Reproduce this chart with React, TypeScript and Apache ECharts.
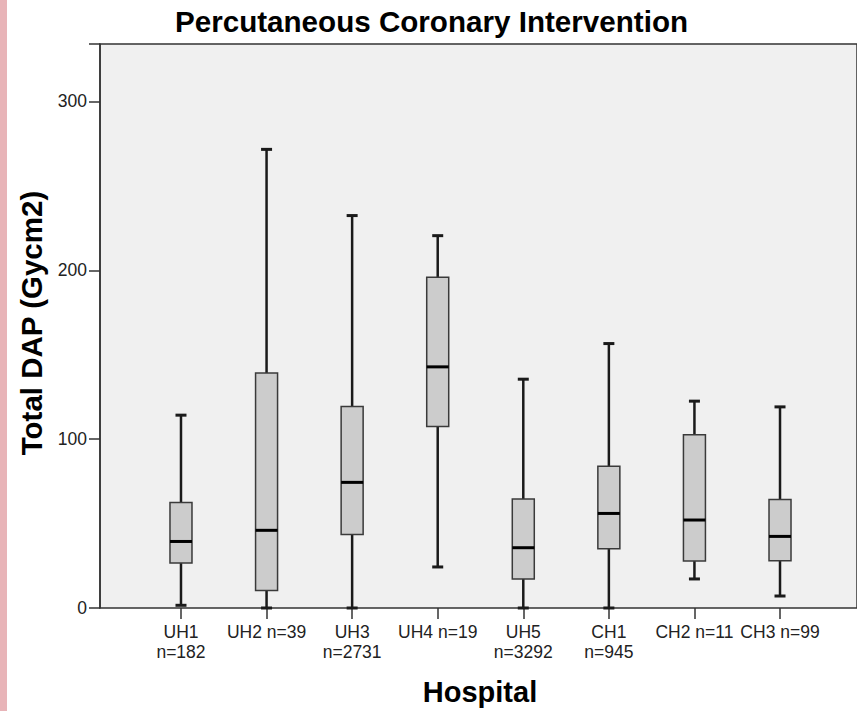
import React, { useEffect, useRef } from "react";
import * as echarts from "echarts";

// Box-and-whisker summary of total DAP per hospital
const hospitals = ["UH1", "UH2", "UH3", "UH4", "UH5", "CH1", "CH2", "CH3"];
const tickLabels = [
  "UH1\nn=182",
  "UH2 n=39",
  "UH3\nn=2731",
  "UH4 n=19",
  "UH5\nn=3292",
  "CH1\nn=945",
  "CH2 n=11",
  "CH3 n=99",
];
const whiskerLow = [1.6, 0, 0, 24.3, 0, 0, 17.2, 7.1];
const quartile1 = [26.6, 10.3, 43.6, 107.5, 17.2, 35.1, 27.8, 28.0];
const medians = [39.4, 46.0, 74.4, 142.8, 35.7, 56.0, 52.1, 42.4];
const quartile3 = [62.5, 139.1, 119.3, 195.9, 64.5, 84.0, 102.6, 64.3];
const whiskerHigh = [114.2, 271.6, 232.4, 220.5, 135.5, 156.6, 122.5, 119.1];
const yTicks = [0, 100, 200, 300];

const FONT = '"Liberation Sans", Arial, sans-serif';

export default function App() {
  const ref = useRef<HTMLDivElement>(null);

  useEffect(() => {
    if (!ref.current) return;
    const chart = echarts.init(ref.current, undefined, { renderer: "svg" });

    const boxData = hospitals.map((_, i) => [
      i,
      whiskerLow[i],
      quartile1[i],
      medians[i],
      quartile3[i],
      whiskerHigh[i],
    ]);

    const yMax = 334;

    chart.setOption({
      animation: false,
      backgroundColor: "#ffffff",
      grid: [
        {
          left: 100,
          top: 44,
          width: 762,
          height: 564,
          show: true,
          backgroundColor: "#f0f0f0",
          borderColor: "#333333",
          borderWidth: 1.5,
        },
        {
          left: 138.2,
          right: 34.2,
          top: 44,
          height: 564,
        },
      ],
      xAxis: [
        { type: "value", gridIndex: 0, show: false, min: 0, max: 1 },
        {
          type: "category",
          gridIndex: 1,
          data: tickLabels,
          boundaryGap: true,
          axisLine: { show: false },
          axisTick: {
            show: true,
            alignWithLabel: true,
            length: 11,
            lineStyle: { color: "#333333", width: 1.5 },
          },
          axisLabel: {
            interval: 0,
            margin: 14,
            color: "#222222",
            fontFamily: FONT,
            fontSize: 17.5,
            lineHeight: 20,
          },
        },
      ],
      yAxis: [
        {
          type: "value",
          gridIndex: 0,
          min: 0,
          max: yMax,
          interval: 100,
          axisLine: { show: true, lineStyle: { color: "#333333", width: 1.5 } },
          axisTick: {
            show: true,
            inside: false,
            length: 11,
            lineStyle: { color: "#333333", width: 1.5 },
          },
          splitLine: { show: false },
          axisLabel: {
            margin: 13,
            color: "#222222",
            fontFamily: FONT,
            fontSize: 17.5,
            formatter: (v: number) => (yTicks.includes(v) ? String(v) : ""),
          },
        },
        { type: "value", gridIndex: 1, show: false, min: 0, max: yMax },
      ],
      series: [
        {
          type: "custom",
          xAxisIndex: 1,
          yAxisIndex: 1,
          data: boxData,
          encode: { x: 0, y: [1, 2, 3, 4, 5] },
          renderItem: (params: any, api: any) => {
            const idx = api.value(0);
            const pLow = api.coord([idx, api.value(1)]);
            const pQ1 = api.coord([idx, api.value(2)]);
            const pMed = api.coord([idx, api.value(3)]);
            const pQ3 = api.coord([idx, api.value(4)]);
            const pHigh = api.coord([idx, api.value(5)]);
            const x = pMed[0];
            const half = 11;
            const cap = 5.5;
            const whisker = { stroke: "#1a1a1a", lineWidth: 2.5 };
            const capStyle = { stroke: "#1a1a1a", lineWidth: 3 };
            return {
              type: "group",
              children: [
                {
                  type: "line",
                  shape: { x1: x, y1: pQ3[1], x2: x, y2: pHigh[1] },
                  style: whisker,
                },
                {
                  type: "line",
                  shape: { x1: x, y1: pQ1[1], x2: x, y2: pLow[1] },
                  style: whisker,
                },
                {
                  type: "line",
                  shape: { x1: x - cap, y1: pHigh[1], x2: x + cap, y2: pHigh[1] },
                  style: capStyle,
                },
                {
                  type: "line",
                  shape: { x1: x - cap, y1: pLow[1], x2: x + cap, y2: pLow[1] },
                  style: capStyle,
                },
                {
                  type: "rect",
                  shape: {
                    x: x - half,
                    y: pQ3[1],
                    width: half * 2,
                    height: pQ1[1] - pQ3[1],
                  },
                  style: { fill: "#cccccc", stroke: "#3a3a3a", lineWidth: 1.5 },
                },
                {
                  type: "line",
                  shape: { x1: x - half, y1: pMed[1], x2: x + half, y2: pMed[1] },
                  style: { stroke: "#000000", lineWidth: 3 },
                },
              ],
            };
          },
        },
      ],
      graphic: [
        {
          type: "rect",
          left: 0,
          top: 0,
          shape: { x: 0, y: 0, width: 7, height: 711 },
          style: { fill: "#e8b4b8" },
          z: 100,
        },
        {
          type: "text",
          x: 431.5,
          y: 21.5,
          style: {
            text: "Percutaneous Coronary Intervention",
            fontFamily: FONT,
            fontSize: 29.6,
            fontWeight: "bold",
            fill: "#000000",
            align: "center",
            verticalAlign: "middle",
            textAlign: "center",
            textVerticalAlign: "middle",
          },
        },
        {
          type: "text",
          x: 31,
          y: 323,
          rotation: Math.PI / 2,
          style: {
            text: "Total DAP (Gycm2)",
            fontFamily: FONT,
            fontSize: 29.5,
            fontWeight: "bold",
            fill: "#000000",
            align: "center",
            verticalAlign: "middle",
            textAlign: "center",
            textVerticalAlign: "middle",
          },
        },
        {
          type: "text",
          x: 480,
          y: 692,
          style: {
            text: "Hospital",
            fontFamily: FONT,
            fontSize: 29,
            fontWeight: "bold",
            fill: "#000000",
            align: "center",
            verticalAlign: "middle",
            textAlign: "center",
            textVerticalAlign: "middle",
          },
        },
      ],
    });

    return () => chart.dispose();
  }, []);

  return (
    <div
      ref={ref}
      style={{
        position: "fixed",
        left: 0,
        top: 0,
        width: 857,
        height: 711,
        background: "#ffffff",
      }}
    />
  );
}
